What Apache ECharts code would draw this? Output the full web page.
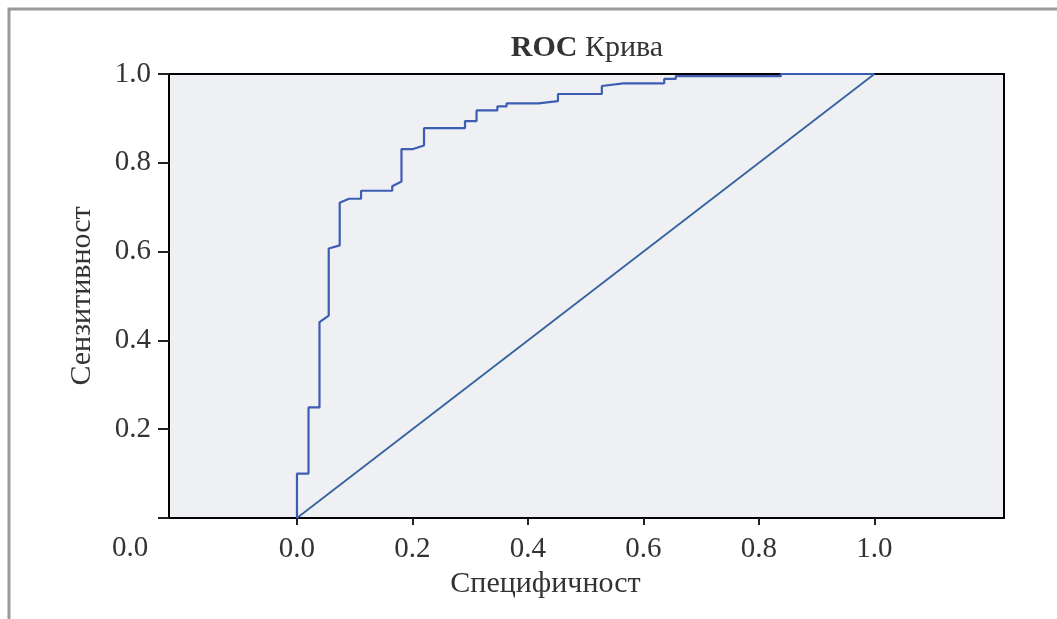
<!DOCTYPE html>
<html>
<head>
<meta charset="utf-8">
<script src="https://cdn.jsdelivr.net/npm/echarts@6/dist/echarts.min.js"></script>
<style>
  html, body { margin: 0; padding: 0; background: #fff; }
  #chart { width: 1057px; height: 619px; }
</style>
</head>
<body>
<div id="chart"></div>
<script>
// ROC точки (1 - специфичност, сензитивност), прочитани од сликата
const rocX = [0, 0, 0.020, 0.020, 0.039, 0.039, 0.055, 0.055, 0.074, 0.074, 0.090, 0.111, 0.111,
  0.165, 0.165, 0.181, 0.181, 0.201, 0.220, 0.220, 0.291, 0.291, 0.311, 0.311, 0.347, 0.347,
  0.363, 0.363, 0.418, 0.452, 0.452, 0.528, 0.528, 0.565, 0.636, 0.636, 0.656, 0.656, 0.838, 0.838, 1.0]
const rocY = [0, 0.100, 0.100, 0.249, 0.249, 0.441, 0.456, 0.607, 0.614, 0.710, 0.719, 0.719, 0.737,
  0.737, 0.747, 0.758, 0.831, 0.831, 0.839, 0.878, 0.878, 0.894, 0.894, 0.918, 0.918, 0.927,
  0.927, 0.934, 0.934, 0.939, 0.955, 0.955, 0.973, 0.979, 0.979, 0.989, 0.989, 0.995, 0.995, 1.0, 1.0]
const diagX = [0, 1]
const diagY = [0, 1]
const tickValues = [0, 0.2, 0.4, 0.6, 0.8, 1.0]
const yLabelValues = [0.2, 0.4, 0.6, 0.8, 1.0]

const chart = echarts.init(document.getElementById('chart'))
const serif = '"Liberation Serif", "DejaVu Serif", serif'
const textColor = '#333'

const option = {
  backgroundColor: '#fff',
  animation: false,
  title: {
    text: '{b|ROC} Крива',
    left: 582,
    textAlign: 'center',
    top: 28,
    textStyle: {
      fontFamily: serif,
      fontSize: 30,
      fontWeight: 'normal',
      color: textColor,
      rich: {
        b: { fontFamily: serif, fontSize: 30, fontWeight: 'bold', color: textColor }
      }
    }
  },
  grid: {
    left: 169,
    right: 53,
    top: 74,
    bottom: 101,
    show: true,
    backgroundColor: '#eef0f3',
    borderColor: '#000',
    borderWidth: 2
  },
  xAxis: {
    type: 'value',
    min: -0.2216,
    max: 1.2244,
    name: 'Специфичност',
    nameLocation: 'middle',
    nameGap: 50,
    nameTextStyle: { fontFamily: serif, fontSize: 30, color: textColor, padding: [0, 82, 0, 0] },
    axisLine: { show: true, onZero: false, lineStyle: { color: '#000', width: 2 } },
    axisTick: { show: true, length: 7, customValues: tickValues, lineStyle: { color: '#222', width: 2 } },
    axisLabel: {
      customValues: tickValues,
      margin: 17,
      fontFamily: serif,
      fontSize: 29,
      color: textColor,
      formatter: v => v.toFixed(1)
    },
    splitLine: { show: false }
  },
  yAxis: {
    type: 'value',
    min: 0,
    max: 1,
    name: 'Сензитивност',
    nameLocation: 'middle',
    nameGap: 72,
    nameTextStyle: { fontFamily: serif, fontSize: 30, color: textColor },
    axisLine: { show: true, onZero: false, lineStyle: { color: '#000', width: 2 } },
    axisTick: { show: true, length: 11, customValues: tickValues, lineStyle: { color: '#222', width: 2 } },
    axisLabel: {
      customValues: yLabelValues,
      margin: 18,
      fontFamily: serif,
      fontSize: 29,
      color: textColor,
      formatter: v => v.toFixed(1)
    },
    splitLine: { show: false }
  },
  graphic: [
    {
      type: 'polyline',
      shape: { points: [[9, 619], [9, 9], [1057, 9]] },
      style: { stroke: '#9a9a9a', lineWidth: 3, fill: null }
    },
    {
      type: 'text',
      left: 112,
      top: 534,
      style: { text: '0.0', font: '29px ' + serif, fill: textColor }
    }
  ],
  series: [
    {
      name: 'Дијагонала',
      type: 'line',
      data: diagX.map((x, i) => [x, diagY[i]]),
      showSymbol: false,
      lineStyle: { color: '#35639e', width: 1.8 },
      z: 2
    },
    {
      name: 'ROC',
      type: 'line',
      data: rocX.map((x, i) => [x, rocY[i]]),
      showSymbol: false,
      lineStyle: { color: '#3d5db2', width: 2.2 },
      z: 3
    }
  ]
}

chart.setOption(option)
window.addEventListener('resize', () => chart.resize())
</script>
</body>
</html>
